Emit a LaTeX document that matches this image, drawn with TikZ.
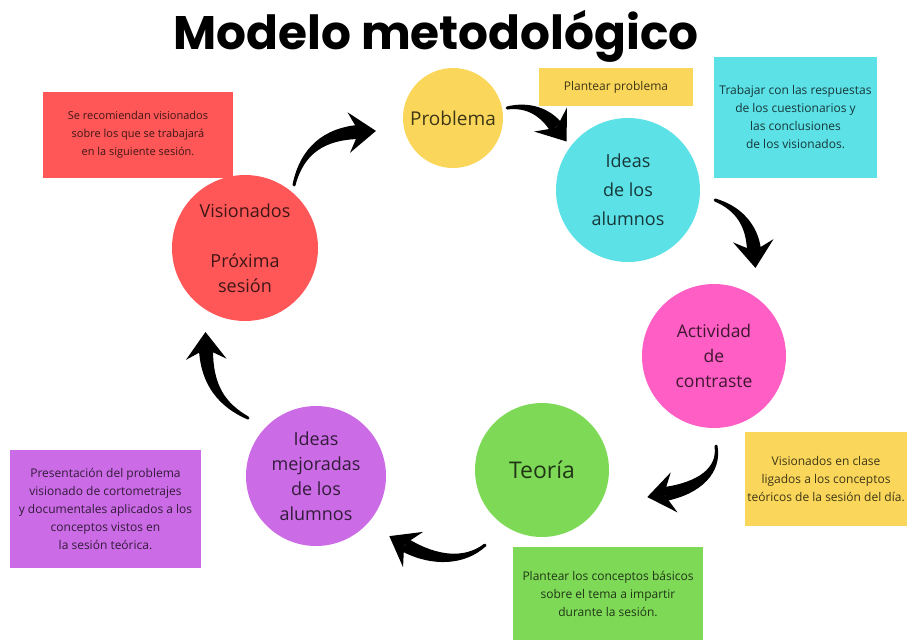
\documentclass[tikz,border=0pt]{standalone}
\usepackage{fontspec}
\setmainfont{Open Sans}
\newfontfamily\titlefont{Poppins}
\usetikzlibrary{arrows.meta,calc}
\definecolor{cyel}{HTML}{FAD75A}
\definecolor{ccya}{HTML}{5CE1E6}
\definecolor{cpink}{HTML}{FF5EC4}
\definecolor{cgreen}{HTML}{7ED957}
\definecolor{cpurp}{HTML}{CB6CE6}
\definecolor{cred}{HTML}{FF5757}
\tikzset{
  circ/.style={circle, fill=#1, text=#1!25!black, font=\fontsize{18}{25}\selectfont, align=center, inner sep=0pt},
  note/.style={rectangle, fill=#1, text=#1!25!black, font=\fontsize{12}{18}\selectfont, align=center, inner sep=0pt},
  headtip/.style={line width=13pt, -{Stealth[length=27pt,width=40pt,inset=10pt]}},
}
% tapered brush arrow: #1 tail, #2 #3 controls, #4 body end
\newcommand\brusharrow[4]{%
  \fill ($(#1)!1.5pt!-90:(#2)$) .. controls ($(#2)!3.5pt!-90:(#3)$) and ($(#3)!6pt!-90:(#4)$) .. ($(#4)!7pt!90:(#3)$)
     -- ($(#4)!7pt!-90:(#3)$) .. controls ($(#3)!6pt!90:(#4)$) and ($(#2)!3.5pt!90:(#3)$) .. ($(#1)!1.5pt!90:(#2)$) -- cycle;
  \fill (#1) circle (1.5pt);
  \draw[headtip] (#4) -- ($(#4)!-18pt!(#3)$);
}
\begin{document}
\begin{tikzpicture}[x=1pt,y=-1pt]
\useasboundingbox (0,0) rectangle (907,640);
\node (title) at (436,36) {\titlefont\bfseries\fontsize{47}{52}\selectfont Modelo metodológico};

% circles
\node[circ=cyel, minimum size=100pt, font=\fontsize{19}{25}\selectfont] (prob) at (453,118) {Problema};
\node[circ=ccya, minimum size=144pt] (ideas) at (628,190) {Ideas\\[4pt]de los\\[4pt]alumnos};
\node[circ=cpink, minimum size=144pt, font=\fontsize{17.5}{25}\selectfont] (act) at (714,356) {Actividad\\de\\contraste};
\node[circ=cgreen, minimum size=134pt, font=\fontsize{23}{28}\selectfont] (teo) at (542,470) {Teoría};
\node[circ=cpurp, minimum size=140pt] (mej) at (316,476) {Ideas\\mejoradas\\de los\\alumnos};
\node[circ=cred, minimum size=146pt] (vis) at (245,248) {Visionados\\[25pt]Próxima\\sesión};

% notes
\node[note=cred, minimum width=190pt, minimum height=86pt, font=\fontsize{11}{18}\selectfont] (n1) at (138,135) {Se recomiendan visionados\\sobre los que se trabajará\\en la siguiente sesión.};
\node[note=cyel, minimum width=154pt, minimum height=38pt] (n2) at (616,87) {Plantear problema};
\node[note=ccya, minimum width=163pt, minimum height=121pt] (n3) at (795.5,117.5) {Trabajar con las respuestas\\de los cuestionarios y\\las conclusiones\\de los visionados.};
\node[note=cyel, minimum width=162pt, minimum height=94pt] (n4) at (826,479) {Visionados en clase\\ligados a los conceptos\\teóricos de la sesión del día.};
\node[note=cgreen, minimum width=190pt, minimum height=93pt] (n5) at (608,593.5) {Plantear los conceptos básicos\\sobre el tema a impartir\\durante la sesión.};
\node[note=cpurp, minimum width=191pt, minimum height=118pt] (n6) at (105.5,509) {Presentación del problema\\visionado de cortometrajes\\y documentales aplicados a los\\conceptos vistos en\\la sesión teórica.};

% arrows
\coordinate (a1s) at (294,185); \coordinate (a1p) at (302,150); \coordinate (a1q) at (325,134); \coordinate (a1e) at (358,132);
\coordinate (a2s) at (507,108); \coordinate (a2p) at (528,104); \coordinate (a2q) at (545,112); \coordinate (a2e) at (556,127);
\coordinate (a3s) at (715,200); \coordinate (a3p) at (738,208); \coordinate (a3q) at (752,225); \coordinate (a3e) at (754,250);
\coordinate (a4s) at (716,446); \coordinate (a4p) at (720,470); \coordinate (a4q) at (700,488); \coordinate (a4e) at (665,494);
\coordinate (a5s) at (485,545); \coordinate (a5p) at (465,562); \coordinate (a5q) at (435,562); \coordinate (a5e) at (405,545);
\coordinate (a6s) at (248,418); \coordinate (a6p) at (222,405); \coordinate (a6q) at (207,385); \coordinate (a6e) at (206,350);
\brusharrow{a1s}{a1p}{a1q}{a1e}
\brusharrow{a2s}{a2p}{a2q}{a2e}
\brusharrow{a3s}{a3p}{a3q}{a3e}
\brusharrow{a4s}{a4p}{a4q}{a4e}
\brusharrow{a5s}{a5p}{a5q}{a5e}
\brusharrow{a6s}{a6p}{a6q}{a6e}
\end{tikzpicture}
\end{document}
